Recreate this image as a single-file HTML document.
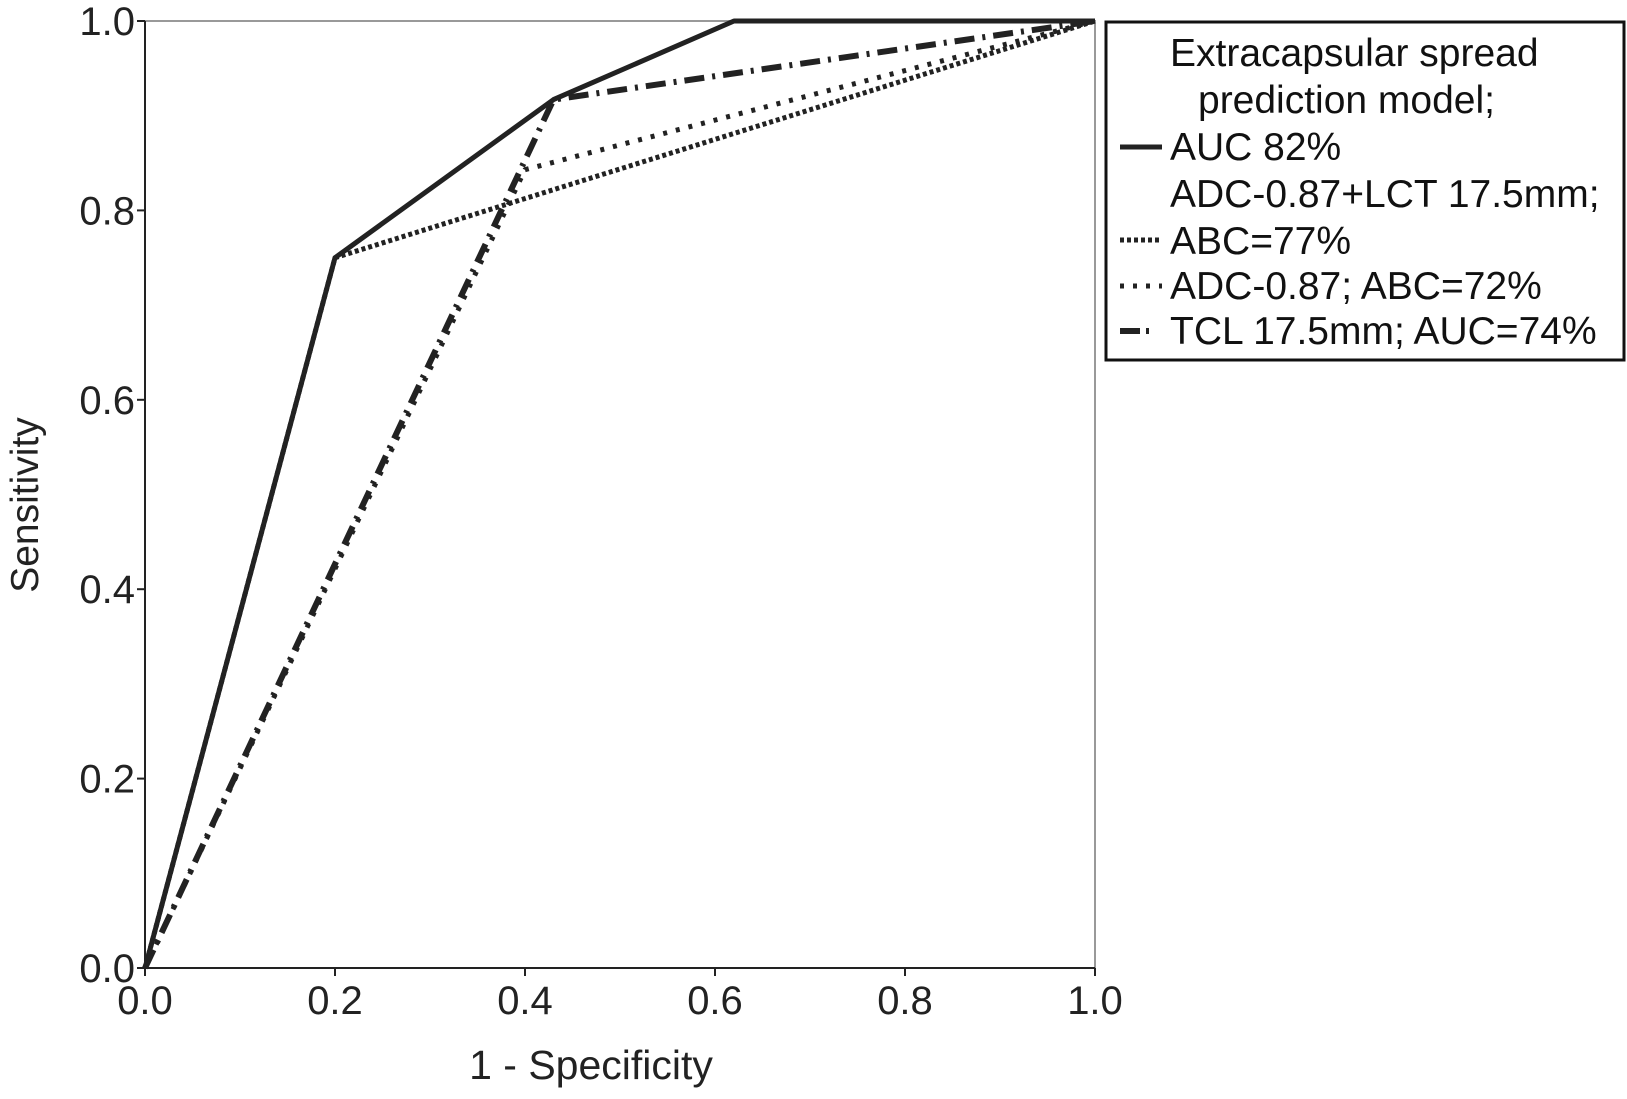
<!DOCTYPE html>
<html><head><meta charset="utf-8"><style>
body{margin:0;background:#fff;width:1627px;height:1099px;overflow:hidden}
svg{display:block;font-family:"Liberation Sans",Arial,sans-serif}
</style></head><body>
<svg id="chart" width="1627" height="1099" viewBox="0 0 1627 1099">
<g id="axes"></g>
<g id="series"></g>
<text x="591" y="1079" font-size="41" text-anchor="middle" fill="#222">1 - Specificity</text>
<text x="0" y="0" font-size="39" text-anchor="middle" fill="#222" transform="translate(38,505) rotate(-90)">Sensitivity</text>
<g>
<rect x="1106" y="22" width="518" height="338" fill="#fff" stroke="#111" stroke-width="3"/>
<g font-size="39" fill="#111">
<text x="1170" y="66">Extracapsular spread</text>
<text x="1198" y="113">prediction model;</text>
<line x1="1120" y1="147" x2="1162" y2="147" stroke="#222" stroke-width="5"/>
<text x="1170" y="160">AUC 82%</text>
<text x="1170" y="207">ADC-0.87+LCT 17.5mm;</text>
<line x1="1120" y1="240" x2="1162" y2="240" stroke="#222" stroke-width="5" stroke-dasharray="4,3"/>
<text x="1170" y="254">ABC=77%</text>
<line x1="1120" y1="286" x2="1162" y2="286" stroke="#222" stroke-width="5" stroke-dasharray="4,9"/>
<text x="1170" y="299">ADC-0.87; ABC=72%</text>
<line x1="1120" y1="331" x2="1140" y2="331" stroke="#222" stroke-width="6"/>
<line x1="1146" y1="331" x2="1149" y2="331" stroke="#222" stroke-width="6"/>
<text x="1170" y="344">TCL 17.5mm; AUC=74%</text>
</g></g>
</svg>
<script>
const xTicks=[0,0.2,0.4,0.6,0.8,1.0];
const yTicks=[0,0.2,0.4,0.6,0.8,1.0];
const solidX=[0,0.2,0.43,0.62,1];
const solidY=[0,0.75,0.917,1,1];
const abcX=[0,0.2,1];
const abcY=[0,0.75,1];
const adcX=[0,0.4,1];
const adcY=[0,0.843,1];
const tclX=[0,0.43,1];
const tclY=[0,0.917,1];
const NS="http://www.w3.org/2000/svg";
const L=145,R=1095,T=21,B=968;
const sx=v=>L+v*(R-L), sy=v=>B-v*(B-T);
const axes=document.getElementById('axes'), ser=document.getElementById('series');
function mk(tag,attrs,parent){const e=document.createElementNS(NS,tag);for(const k in attrs)e.setAttribute(k,attrs[k]);parent.appendChild(e);return e;}
const frame=mk('rect',{x:L,y:T,width:R-L,height:B-T,fill:'none',stroke:'#999','stroke-width':2},axes);


const xa=mk('line',{x1:L,y1:B,x2:R,y2:B,stroke:'#222','stroke-width':2},axes);


const ya=mk('line',{x1:L,y1:T,x2:L,y2:B,stroke:'#222','stroke-width':2},axes);


xTicks.forEach(v=>{
 const t=mk('line',{x1:sx(v),y1:B,x2:sx(v),y2:B+8,stroke:'#222','stroke-width':2},axes);
 
 
 const l=mk('text',{x:sx(v),y:B+46,'font-size':40,'text-anchor':'middle',fill:'#222'},axes);
 l.textContent=v.toFixed(1);
 
 
});
yTicks.forEach(v=>{
 const t=mk('line',{x1:L-8,y1:sy(v),x2:L,y2:sy(v),stroke:'#222','stroke-width':2},axes);
 
 
 const l=mk('text',{x:L-10,y:sy(v)+14,'font-size':40,'text-anchor':'end',fill:'#222'},axes);
 l.textContent=v.toFixed(1);
 
 
});
function line(xs,ys,dash,w,name){
 const p=xs.map((x,i)=>sx(x)+','+sy(ys[i])).join(' ');
 const e=mk('polyline',{points:p,fill:'none',stroke:'#222','stroke-width':w,'stroke-dasharray':dash,'stroke-linejoin':'round'},ser);
 
 
}
line(abcX,abcY,'4,3',5,'series-abc77');
line(adcX,adcY,'4,9',5,'series-adc');
line(tclX,tclY,'20,8,3,8',6,'series-tcl');
line(solidX,solidY,'none',5,'series-auc82');
</script>
</body></html>
